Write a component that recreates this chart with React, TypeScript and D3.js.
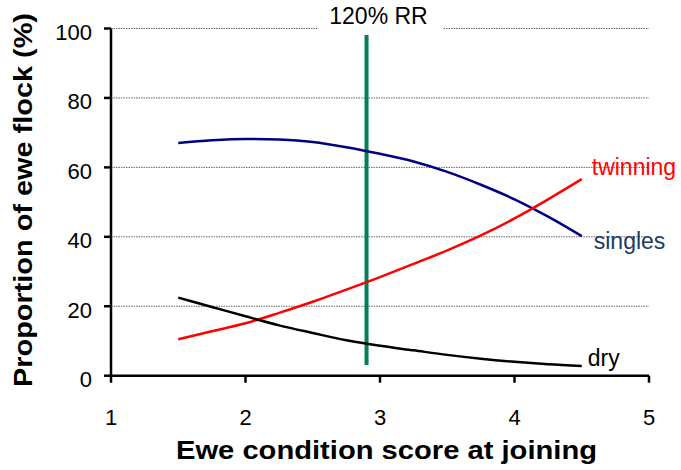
import * as d3 from "d3";
import React from "react";

// condition score sampled every 0.25
const scores = [1.5, 1.75, 2.0, 2.25, 2.5, 2.75, 3.0, 3.25, 3.5, 3.75, 4.0, 4.25, 4.5];
const singles = [67, 67.8, 68.2, 68, 67.3, 65.8, 63.9, 61.7, 58.7, 55, 50.8, 45.8, 40.2];
const twinning = [10.5, 12.8, 15.1, 18.1, 21.3, 24.8, 28.4, 32.2, 36.1, 40.4, 45.3, 50.8, 56.6];
const dry = [22.5, 19.8, 17.1, 14.5, 12.3, 10.2, 8.6, 7.3, 6.0, 4.9, 4.0, 3.3, 2.8];

const xTicks = [1, 2, 3, 4, 5];
const yTicks = [0, 20, 40, 60, 80, 100];
const rrScore = 2.9;

const W = 681;
const H = 470;
const font = "Arial, 'Liberation Sans', sans-serif";

export default function App() {
  const x = d3.scaleLinear().domain([1, 5]).range([111, 649]);
  const y = d3.scaleLinear().domain([0, 100]).range([375.7, 28.5]);

  const line = d3
    .line<number>()
    .x((_, i) => x(scores[i]))
    .y((d) => y(d))
    .curve(d3.curveMonotoneX);

  const series = [
    { name: "singles", values: singles, color: "#000080", labelColor: "#1b3a66", dx: 12, dy: 13 },
    { name: "twinning", values: twinning, color: "#ff0000", labelColor: "#ff0000", dx: 10, dy: -4 },
    { name: "dry", values: dry, color: "#000000", labelColor: "#000000", dx: 6, dy: 0 },
  ];

  const last = scores.length - 1;

  return (
    <svg
      width={W}
      height={H}
      style={{ position: "absolute", left: 0, top: 0, background: "#fff" }}
      fontFamily={font}
    >
      {/* gridlines */}
      {yTicks
        .filter((t) => t > 0)
        .map((t) => (
          <line
            key={t}
            x1={x(1)}
            x2={x(5)}
            y1={y(t)}
            y2={y(t)}
            stroke="#666"
            strokeWidth={1}
            strokeDasharray="1.5,1"
          />
        ))}

      {/* label box breaking the top gridline */}
      <rect x={318} y={4} width={125} height={30} fill="#fff" />
      <text x={378.5} y={23.5} textAnchor="middle" fontSize={23} fill="#000">
        120% RR
      </text>

      {/* 120% RR marker */}
      <line
        x1={x(rrScore)}
        x2={x(rrScore)}
        y1={35}
        y2={365}
        stroke="#008058"
        strokeWidth={4}
      />

      {/* series */}
      {series.map((s) => (
        <g key={s.name}>
          <path d={line(s.values) ?? ""} fill="none" stroke={s.color} strokeWidth={2.5} />
          <text
            x={x(scores[last]) + s.dx}
            y={y(s.values[last]) + s.dy}
            fontSize={23}
            fill={s.labelColor}
          >
            {s.name}
          </text>
        </g>
      ))}

      {/* axes */}
      <line x1={x(1)} x2={x(1)} y1={y(100)} y2={y(0)} stroke="#000" strokeWidth={2.5} />
      <line x1={x(1)} x2={x(5)} y1={y(0)} y2={y(0)} stroke="#000" strokeWidth={2.5} />
      {yTicks.map((t) => (
        <g key={t}>
          <line x1={x(1) - 7} x2={x(1)} y1={y(t)} y2={y(t)} stroke="#000" strokeWidth={2.5} />
          <text x={x(1) - 19} y={y(t) + 11.5} textAnchor="end" fontSize={22} fill="#000">
            {t}
          </text>
        </g>
      ))}
      {xTicks.map((t) => (
        <g key={t}>
          <line x1={x(t)} x2={x(t)} y1={y(0)} y2={y(0) + 7} stroke="#000" strokeWidth={2.5} />
          <text x={x(t)} y={425} textAnchor="middle" fontSize={22} fill="#000">
            {t}
          </text>
        </g>
      ))}

      {/* axis titles */}
      <text
        x={176}
        y={459}
        fontSize={26}
        fontWeight="bold"
        fill="#000"
        textLength={421}
        lengthAdjust="spacingAndGlyphs"
      >
        Ewe condition score at joining
      </text>
      <text
        transform={`translate(32, 387) rotate(-90)`}
        fontSize={26}
        fontWeight="bold"
        fill="#000"
        textLength={374}
        lengthAdjust="spacingAndGlyphs"
      >
        Proportion of ewe flock (%)
      </text>
    </svg>
  );
}
